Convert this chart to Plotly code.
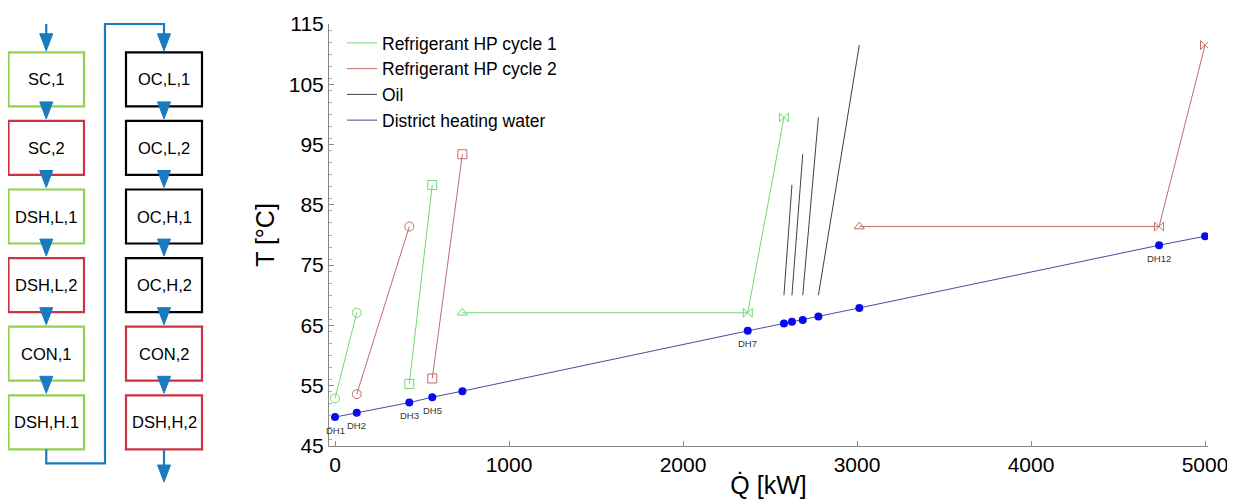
import plotly.graph_objects as go

# page body has an 8px margin; the figure is shrunk/shifted to compensate
OFF = 8
W, H = 1235 - OFF, 504 - OFF

# ---------------- data ----------------
dh_q = [0, 125, 427, 559, 732, 2372, 2580, 2626, 2688, 2778, 3013, 4736, 5000]
dh_t = [49.8, 50.5, 52.2, 53.1, 54.1, 64.1, 65.3, 65.6, 65.9, 66.5, 67.9, 78.3, 79.8]
dh_labels = ["DH1", "DH2", "DH3", "DH5", "", "DH7", "", "", "", "", "", "DH12", ""]

c1_circle_q = [0, 125]
c1_circle_t = [52.9, 67.1]
c1_square_q = [427, 559]
c1_square_t = [55.3, 88.3]
c1_tri_q = [732, 2372, 2580]
c1_tri_t = [67.1, 67.1, 99.5]

c2_circle_q = [125, 427]
c2_circle_t = [53.6, 81.4]
c2_square_q = [559, 732]
c2_square_t = [56.2, 93.4]
c2_tri_q = [3013, 4736, 5000]
c2_tri_t = [81.4, 81.4, 111.5]

oil_q_in = [2580, 2626, 2688, 2778]
oil_q_out = [2626, 2688, 2778, 3013]
oil_t_in = [70, 70, 70, 70]
oil_t_out = [88.3, 93.4, 99.5, 111.5]

y_ticks = [45, 55, 65, 75, 85, 95, 105, 115]
x_ticks = [0, 1000, 2000, 3000, 4000, 5000]

left_boxes = ["SC,1", "SC,2", "DSH,L,1", "DSH,L,2", "CON,1", "DSH,H.1"]
left_kinds = ["c1", "c2", "c1", "c2", "c1", "c1"]
right_boxes = ["OC,L,1", "OC,L,2", "OC,H,1", "OC,H,2", "CON,2", "DSH,H,2"]
right_kinds = ["oil", "oil", "oil", "oil", "c2", "c2"]

# ---------------- styles ----------------
GREEN = "#72d872"
RED = "#c46a6a"
OIL = "#404040"
DHLINE = "#4c4c9c"
DHMARK = "#0a0aee"
BOX_COL = {"c1": "#92d050", "c2": "#cc3340", "oil": "#000000"}
FLOW = "#1a7abf"
FONT = "Liberation Sans, Arial, sans-serif"

fig = go.Figure()

def seg_trace(q, t, color, symbols, name):
    fig.add_trace(go.Scatter(
        x=q, y=t, mode="lines+markers", name=name, showlegend=False,
        line=dict(color=color, width=1),
        marker=dict(symbol=symbols, size=9, color=color, line=dict(color=color, width=1)),
    ))

seg_trace(c1_circle_q, c1_circle_t, GREEN, "circle-open", "c1")
seg_trace(c1_square_q, c1_square_t, GREEN, "square-open", "c1")
seg_trace(c1_tri_q, c1_tri_t, GREEN, ["triangle-up-open", "bowtie-open", "bowtie-open"], "c1")
seg_trace(c2_circle_q, c2_circle_t, RED, "circle-open", "c2")
seg_trace(c2_square_q, c2_square_t, RED, "square-open", "c2")
seg_trace(c2_tri_q, c2_tri_t, RED, ["triangle-up-open", "bowtie-open", "bowtie-open"], "c2")

oil_x, oil_y = [], []
for a, b, ta, tb in zip(oil_q_in, oil_q_out, oil_t_in, oil_t_out):
    oil_x += [a, b, None]
    oil_y += [ta, tb, None]
fig.add_trace(go.Scatter(x=oil_x, y=oil_y, mode="lines", showlegend=False,
                         line=dict(color=OIL, width=1)))

fig.add_trace(go.Scatter(x=dh_q, y=dh_t, mode="lines+markers", showlegend=False,
                         line=dict(color=DHLINE, width=1),
                         marker=dict(symbol="circle", size=8, color=DHMARK)))

for q, t, lab in zip(dh_q, dh_t, dh_labels):
    if lab:
        fig.add_annotation(x=q, y=t, text=lab, showarrow=False, yshift=-13,
                           xanchor="center", yanchor="middle",
                           font=dict(size=9.5, color="#333333", family=FONT))

# legend-only entries (lines only)
for name, col in [("Refrigerant HP cycle 1", GREEN), ("Refrigerant HP cycle 2", RED),
                  ("Oil", OIL), ("District heating water", DHLINE)]:
    fig.add_trace(go.Scatter(x=[None], y=[None], mode="lines", name=name,
                             line=dict(color=col, width=1)))

# ---------------- flow diagram (paper coords, window-px based) ----------------
def PX(x):
    return (x - OFF) / W

def PY(y):
    return 1 - (y - OFF) / H

BOX_TOP0, BOX_PITCH, BOX_H = 52.3, 68.6, 54.0
LEFT_X = (8.5, 84.0)
RIGHT_X = (126.0, 202.0)
TRI_HW, TRI_H = 6.5, 17.0

shapes = []

def tri(cx, tip_y):
    p = (f"M {PX(cx - TRI_HW)},{PY(tip_y - TRI_H)} L {PX(cx + TRI_HW)},{PY(tip_y - TRI_H)} "
         f"L {PX(cx)},{PY(tip_y)} Z")
    shapes.append(dict(type="path", xref="paper", yref="paper", path=p,
                       fillcolor=FLOW, line=dict(color=FLOW, width=1), layer="above"))

def polyline(pts):
    p = "M " + " L ".join(f"{PX(x)},{PY(y)}" for x, y in pts)
    shapes.append(dict(type="path", xref="paper", yref="paper", path=p,
                       line=dict(color=FLOW, width=2.2), layer="above"))

for (x0, x1), labels, kinds in [(LEFT_X, left_boxes, left_kinds), (RIGHT_X, right_boxes, right_kinds)]:
    cx = (x0 + x1) / 2
    for i, (lab, k) in enumerate(zip(labels, kinds)):
        top = BOX_TOP0 + i * BOX_PITCH
        shapes.append(dict(type="rect", xref="paper", yref="paper",
                           x0=PX(x0), x1=PX(x1), y0=PY(top + BOX_H), y1=PY(top),
                           line=dict(color=BOX_COL[k], width=2.2), fillcolor="white",
                           layer="above"))
        fig.add_annotation(xref="paper", yref="paper", x=PX(cx), y=PY(top + BOX_H / 2),
                           xanchor="center", yanchor="middle",
                           text=lab, showarrow=False,
                           font=dict(size=16.5, color="black", family=FONT))
    for i in range(len(labels) - 1):
        next_top = BOX_TOP0 + (i + 1) * BOX_PITCH
        tri(cx, next_top - 2.0)

lcx = sum(LEFT_X) / 2
rcx = sum(RIGHT_X) / 2
last_bottom = BOX_TOP0 + 5 * BOX_PITCH + BOX_H
polyline([(lcx, 24), (lcx, 36)])
tri(lcx, BOX_TOP0 - 1.5)
polyline([(lcx, last_bottom), (lcx, 463.3), (105, 463.3), (105, 24), (rcx, 24), (rcx, 36)])
tri(rcx, BOX_TOP0 - 1.5)
polyline([(rcx, last_bottom), (rcx, 468)])
tri(rcx, 482)

# ---------------- layout ----------------
X0_PX, X1_PX = 329, 1208
Y_TOP_PX, Y_BOT_PX = 24, 446
fig.update_layout(
    width=W, height=H,
    margin=dict(l=0, r=0, t=0, b=0, autoexpand=False),
    paper_bgcolor="white", plot_bgcolor="white",
    font=dict(family=FONT, color="black"),
    shapes=shapes,
    showlegend=True,
    legend=dict(x=PX(342), y=PY(25), xanchor="left", yanchor="top",
                bgcolor="rgba(0,0,0,0)", font=dict(size=17.5, color="black", family=FONT),
                tracegroupgap=0),
    xaxis=dict(domain=[PX(X0_PX), PX(X1_PX)], range=[-34.5, 5017], automargin=True,
               tickvals=x_ticks, ticks="inside", ticklen=5, tickcolor="#888",
               showline=True, linecolor="#888", linewidth=1, showgrid=False, zeroline=False,
               tickfont=dict(size=21, family=FONT),
               title=dict(text="Q\u0307 [kW]", font=dict(size=25, family=FONT), standoff=1)),
    yaxis=dict(domain=[PY(Y_BOT_PX), PY(Y_TOP_PX)], range=[45, 115], automargin=True,
               tickvals=y_ticks, ticks="inside", ticklen=5, tickcolor="#888",
               minor=dict(dtick=2, ticks="inside", ticklen=3, tickcolor="#aaa"),
               showline=True, linecolor="#888", linewidth=1, showgrid=False, zeroline=False,
               tickfont=dict(size=21, family=FONT),
               title=dict(text="T [°C]", font=dict(size=25, family=FONT), standoff=7)),
)

fig.write_html("out.html")
